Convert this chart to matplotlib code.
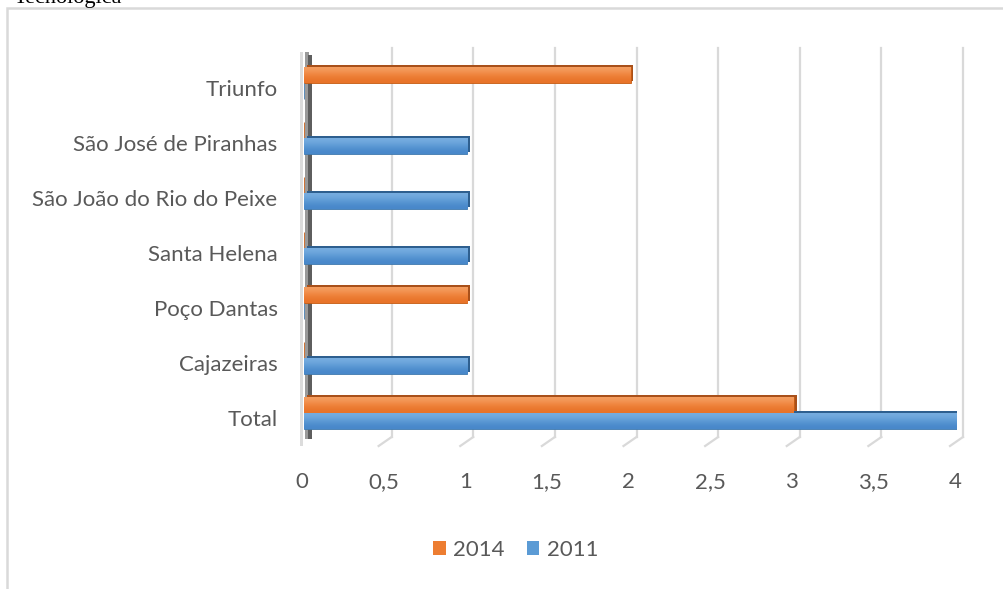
import matplotlib
matplotlib.use("Agg")
import matplotlib.pyplot as plt
import matplotlib.patheffects as pe
from matplotlib.patches import Rectangle
from matplotlib.transforms import ScaledTranslation, blended_transform_factory
import numpy as np

categories = ["Total", "Cajazeiras", "Poço Dantas", "Santa Helena",
              "São João do Rio do Peixe", "São José de Piranhas", "Triunfo"]
values_2014 = [3, 0, 1, 0, 0, 0, 2]
values_2011 = [4, 1, 0, 1, 1, 1, 0]
xticks = [0, 0.5, 1, 1.5, 2, 2.5, 3, 3.5, 4]
xtick_labels = ["0", "0,5", "1", "1,5", "2", "2,5", "3", "3,5", "4"]

FONT = ["Liberation Sans Narrow", "DejaVu Sans Condensed", "Lato", "DejaVu Sans"]
plt.rcParams["font.family"] = FONT
TXT = "#595959"
ORANGE = "#ED7D31"
BLUE = "#5B9BD5"

W, H = 1004, 589
fig = plt.figure(figsize=(W / 100, H / 100), dpi=100)
fig.patch.set_facecolor("white")

# outer frame (chart border)
fig.add_artist(Rectangle((7 / W, -0.05), 1.2, 1 - 8 / H + 0.05,
                         transform=fig.transFigure, fill=False,
                         edgecolor="#d9d9d9", linewidth=1.8, zorder=0))
# caption from the page above, cut by the top edge as in the reference
fig.text(122 / W, 1 - 3 / H, "Tecnológica", ha="right", va="baseline",
         family=["Liberation Serif", "DejaVu Serif"], fontsize=16, color="black")

left, right, top, bottom = 304, 957, 48, 437
ax = fig.add_axes([left / W, 1 - bottom / H, (right - left) / W, (bottom - top) / H])
ax.set_xlim(0, 4)
ax.set_ylim(-0.436, 6.636)
for s in ax.spines.values():
    s.set_visible(False)
ax.set_facecolor("none")

px = (right - left) / 4.0  # pixels per data unit
dx_back = 6 / px
dx_front = 7 / px
ah = bottom - top

# back-wall gridlines and floor diagonals
ytr = blended_transform_factory(ax.transData, ax.transAxes)
for t in xticks[1:]:
    ax.plot([t + dx_back, t + dx_back], [0, 1.0], color="#d9d9d9", lw=1.6,
            transform=ytr, clip_on=False, zorder=1)
    ax.plot([t + dx_back, t - dx_front], [0, -9 / ah], color="#d9d9d9",
            lw=1.6, transform=ytr, clip_on=False, zorder=1)

# side wall
ax.add_patch(Rectangle((-4 / px, -9 / ah), 3 / px, 1 + 5 / ah,
                       transform=ytr, facecolor="#dcdcdc", edgecolor="none",
                       clip_on=False, zorder=1))
ax.add_patch(Rectangle((1 / px, -2 / ah), 4 / px, 1 - 2 / ah,
                       transform=ytr, facecolor="#9a9a9a", edgecolor="none",
                       clip_on=False, zorder=1))
ax.add_patch(Rectangle((4 / px, -2 / ah), 4 / px, 1 - 5 / ah,
                       transform=ytr, facecolor="#5e5e5e", edgecolor="none",
                       clip_on=False, zorder=1))

y = np.arange(len(categories))
h = 16 / 55.0
shadow_o = [pe.SimplePatchShadow(offset=(2, 1.5), shadow_rgbFace="#a8501a", alpha=1),
            pe.Normal()]
shadow_b = [pe.SimplePatchShadow(offset=(2, 1.5), shadow_rgbFace="#2e5f8f", alpha=1),
            pe.Normal()]
b1 = ax.barh(y + h / 2, values_2014, height=h, color=ORANGE, edgecolor="#c55a11",
             linewidth=0.6, label="2014", zorder=3)
b2 = ax.barh(y - h / 2, values_2011, height=h, color=BLUE, edgecolor="#3f78ad",
             linewidth=0.6, label="2011", zorder=3)

grad_o = np.array([[0.96, 0.62, 0.38], [0.94, 0.52, 0.24], [0.91, 0.45, 0.16]])
grad_b = np.array([[0.47, 0.68, 0.88], [0.37, 0.61, 0.84], [0.28, 0.53, 0.79]])
for bars, shd, grad in ((b1, shadow_o, grad_o), (b2, shadow_b, grad_b)):
    for p in bars:
        p.set_path_effects(shd)
        wdt = p.get_width()
        if wdt > 0:
            x0, y0, hh = p.get_x(), p.get_y(), p.get_height()
            img = ax.imshow(grad[:, None, :], extent=(x0, x0 + wdt, y0, y0 + hh),
                            origin="upper", aspect="auto", interpolation="bicubic",
                            zorder=3.5)
            img.set_clip_path(p)
ax.set_xlim(0, 4)
ax.set_ylim(-0.436, 6.636)

ax.set_yticks(y)
ax.set_yticklabels(categories)
ax.set_xticks(xticks)
ax.set_xticklabels(xtick_labels)
ax.tick_params(axis="both", length=0, labelsize=16, labelcolor=TXT)
ax.tick_params(axis="y", pad=19)
ax.tick_params(axis="x", pad=25)
for lab in ax.get_yticklabels():
    lab.set_transform(lab.get_transform() + ScaledTranslation(0, -5 / 100, fig.dpi_scale_trans))
for lab in ax.get_xticklabels():
    lab.set_transform(lab.get_transform() + ScaledTranslation(-2 / 100, 0, fig.dpi_scale_trans))

from matplotlib.patches import Patch
handles = [Patch(facecolor=ORANGE, edgecolor="none"), Patch(facecolor=BLUE, edgecolor="none")]
leg = fig.legend(handles=handles, labels=["2014", "2011"], loc="center",
                 bbox_to_anchor=(516 / W, 1 - 550 / H), ncol=2, frameon=False,
                 fontsize=16, handlelength=0.55, handleheight=0.55,
                 handletextpad=0.35, columnspacing=1.0)
for t in leg.get_texts():
    t.set_color(TXT)

fig.savefig("out.png", dpi=100)
